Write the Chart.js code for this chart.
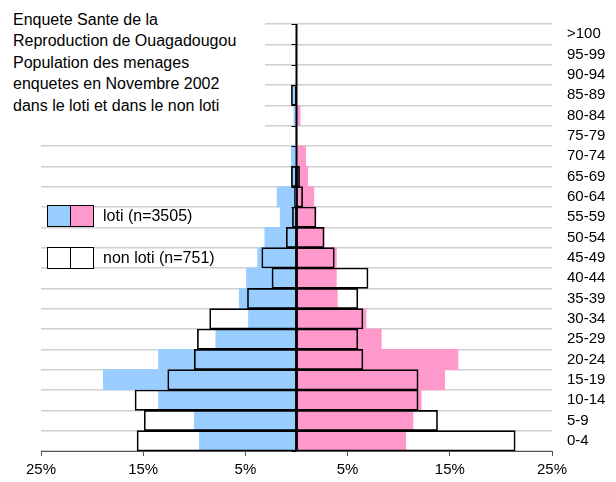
<!DOCTYPE html>
<html>
<head>
<meta charset="utf-8">
<script src="https://cdn.jsdelivr.net/npm/chart.js@4.4.1/dist/chart.umd.min.js"></script>
<style>
    body { margin: 0; background: #fff; }
    #wrap { position: relative; width: 616px; height: 482px; font-family: "Liberation Sans", Arial, sans-serif; }
    #title {
        position: absolute; left: 0; top: 0; width: 252px; height: 134px;
        padding: 9px 0 0 13px; background: #fff;
        font-size: 16px; line-height: 21.4px; color: #000;
    }
    .leg { position: absolute; left: 47px; height: 21px; font-size: 16px; color: #000; }
    .leg .sw { position: absolute; top: 0; width: 22px; height: 20px; border: 1px solid #000; }
    .leg .txt { position: absolute; left: 56px; top: 0; line-height: 21px; white-space: nowrap; }
</style>
</head>
<body>
<div id="wrap">
    <canvas id="pyramid" width="616" height="482"></canvas>
    <div id="title">Enquete Sante de la<br>Reproduction de Ouagadougou<br>Population des menages<br>enquetes en Novembre 2002<br>dans le loti et dans le non loti</div>
    <div class="leg" style="top:205px">
        <div class="sw" style="left:0;background:#99CCFF"></div>
        <div class="sw" style="left:23px;background:#FF99CC"></div>
        <div class="txt">loti (n=3505)</div>
    </div>
    <div class="leg" style="top:247px">
        <div class="sw" style="left:0;background:#fff"></div>
        <div class="sw" style="left:23px;background:#fff"></div>
        <div class="txt">non loti (n=751)</div>
    </div>
</div>
<script>
// age groups, bottom to top
var ageGroups = ['0-4', '5-9', '10-14', '15-19', '20-24', '25-29', '30-34', '35-39', '40-44', '45-49',
    '50-54', '55-59', '60-64', '65-69', '70-74', '75-79', '80-84', '85-89', '90-94', '95-99', '>100'];

// % of population, men on the left, women on the right
var lotiMen     = [9.5, 10.0, 13.5, 18.9, 13.5, 7.9, 4.7, 5.6, 4.9, 3.8, 3.1, 1.6, 1.9, 0.5, 0.5, 0.1, 0.25, 0.3, 0, 0.1, 0];
var lotiWomen   = [10.7, 11.4, 12.2, 14.5, 15.8, 8.3, 6.8, 4.0, 3.9, 3.9, 2.7, 1.9, 1.7, 1.1, 0.9, 0.05, 0.35, 0, 0, 0, 0];
var nonLotiMen  = [15.6, 14.9, 15.8, 12.6, 10.0, 9.7, 8.5, 4.8, 2.4, 3.4, 1.0, 0.4, 0.2, 0.5, 0, 0, 0, 0.5, 0, 0, 0];
var nonLotiWomen = [21.4, 13.8, 11.9, 11.9, 6.5, 6.0, 6.5, 6.0, 7.0, 3.7, 2.7, 1.9, 0.6, 0.3, 0, 0, 0, 0, 0, 0, 0];

var xTickValues = [-25, -15, -5, 5, 15, 25];

function left(arr) { return arr.map(function (v) { return v ? -v : null; }); }
function right(arr) { return arr.map(function (v) { return v ? v : null; }); }

var font = { family: '"Liberation Sans", Arial, sans-serif', size: 15 };

// vertical zero axis with its small ticks
var centerAxis = {
    id: 'centerAxis',
    afterDatasetsDraw: function (chart) {
        var ctx = chart.ctx, area = chart.chartArea;
        var x0 = chart.scales.x.getPixelForValue(0);
        var n = ageGroups.length, step = (area.bottom - area.top) / n;
        ctx.save();
        ctx.strokeStyle = '#000';
        ctx.lineWidth = 2;
        ctx.beginPath();
        ctx.moveTo(x0, area.top);
        ctx.lineTo(x0, area.bottom);
        ctx.stroke();
        ctx.lineWidth = 1;
        for (var i = 0; i <= n; i++) {
            var y = Math.round(area.top + i * step) + 0.5;
            ctx.beginPath();
            ctx.moveTo(x0 - 5, y);
            ctx.lineTo(x0, y);
            ctx.stroke();
        }
        ctx.restore();
    }
};

var ctx = document.getElementById('pyramid').getContext('2d');
var chart = new Chart(ctx, {
    type: 'bar',
    data: {
        labels: ageGroups,
        datasets: [{
            label: 'non loti hommes',
            data: left(nonLotiMen),
            backgroundColor: 'rgba(0,0,0,0)',
            borderColor: '#000',
            borderWidth: 1,
            borderSkipped: false,
            order: 0
        }, {
            label: 'non loti femmes',
            data: right(nonLotiWomen),
            backgroundColor: 'rgba(0,0,0,0)',
            borderColor: '#000',
            borderWidth: 1,
            borderSkipped: false,
            order: 0
        }, {
            label: 'loti hommes',
            data: left(lotiMen),
            backgroundColor: '#99CCFF',
            borderWidth: 0,
            order: 1
        }, {
            label: 'loti femmes',
            data: right(lotiWomen),
            backgroundColor: '#FF99CC',
            borderWidth: 0,
            order: 1
        }]
    },
    options: {
        indexAxis: 'y',
        responsive: false,
        animation: false,
        datasets: { bar: { grouped: false, categoryPercentage: 1, barPercentage: 1 } },
        layout: { padding: { top: 21, left: 41, right: 0, bottom: 0 } },
        plugins: { legend: { display: false }, tooltip: { enabled: false } },
        scales: {
            x: {
                min: -25,
                max: 25,
                afterBuildTicks: function (scale) {
                    scale.ticks = xTickValues.map(function (v) { return { value: v }; });
                },
                afterFit: function (scale) { scale.height = 31; },
                border: { display: true, color: '#555', width: 1 },
                grid: { drawOnChartArea: false, tickLength: 5, color: '#555' },
                ticks: {
                    color: '#000', font: font, padding: 5, maxRotation: 0,
                    callback: function (v) { return Math.abs(v) + '%'; }
                }
            },
            y: {
                position: 'right',
                reverse: true,
                afterFit: function (scale) { scale.width = 64; },
                border: { display: false },
                grid: { color: '#d0d0d0', lineWidth: 1.5, drawTicks: false, offset: true },
                ticks: { color: '#000', font: font, padding: 15, autoSkip: false }
            }
        }
    },
    plugins: [centerAxis]
});
</script>
</body>
</html>
